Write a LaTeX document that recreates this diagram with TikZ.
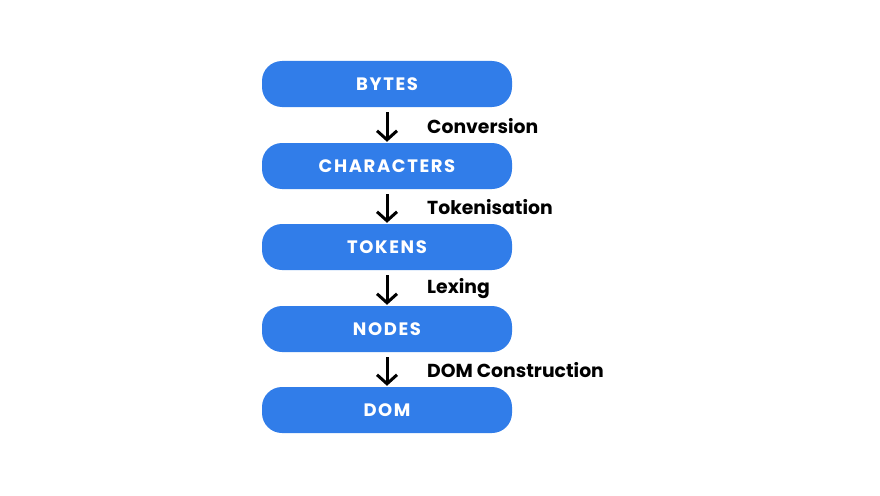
\documentclass[tikz,border=0pt]{standalone}
\usepackage{fontspec}
\setmainfont{Poppins}
\newfontfamily\boxfont[LetterSpace=9]{Poppins}
\usetikzlibrary{arrows.meta}
\definecolor{boxblue}{HTML}{317DE9}
\begin{document}
\begin{tikzpicture}[x=1pt,y=1pt,
  stagebox/.style={fill=boxblue, rounded corners=20pt, minimum width=250pt, minimum height=46pt, inner sep=0pt, text=white, font=\boxfont\fontsize{18}{21}\selectfont\bfseries},
  flowarrow/.style={line width=3pt, -{Straight Barb[length=9pt,width=20pt,line width=3pt]}},
  steplabel/.style={anchor=west, font=\fontsize{18.8}{22}\selectfont\bfseries, inner sep=0pt}]
\useasboundingbox (0,0) rectangle (880,-495);
\node[stagebox] (bytes) at (387,-84) {BYTES};
\node[stagebox] (chars) at (387,-166) {CHARACTERS};
\node[stagebox] (tokens) at (387,-247) {TOKENS};
\node[stagebox] (nodes) at (387,-329) {NODES};
\node[stagebox] (dom) at (387,-410) {DOM};
\draw[flowarrow] ([yshift=-5pt]bytes.south) -- ([yshift=1pt]chars.north);
\draw[flowarrow] ([yshift=-5pt]chars.south) -- ([yshift=1pt]tokens.north);
\draw[flowarrow] ([yshift=-5pt]tokens.south) -- ([yshift=1pt]nodes.north);
\draw[flowarrow] ([yshift=-5pt]nodes.south) -- ([yshift=1pt]dom.north);
\node[steplabel] (l1) at (427,-126) {Conversion};
\node[steplabel] (l2) at (427,-207) {Tokenisation};
\node[steplabel] (l3) at (427,-289) {Lexing};
\node[steplabel] (l4) at (427,-370) {DOM Construction};
\end{tikzpicture}
\end{document}
